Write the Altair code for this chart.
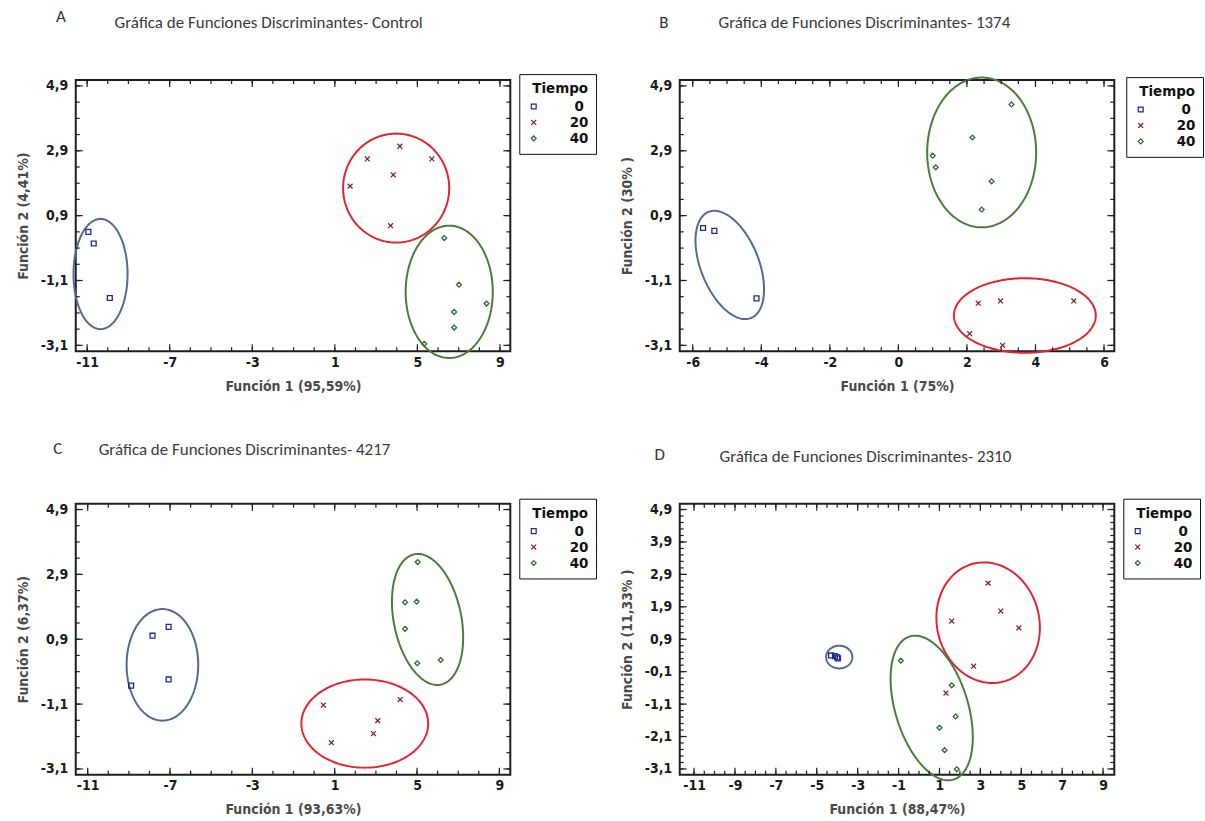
import numpy as np
import pandas as pd
import altair as alt

NARROW = "Liberation Sans Narrow, Arial Narrow, DejaVu Sans Condensed, sans-serif"
TITLE_FONT = "Carlito, Calibri, Lato, sans-serif"
FRAME = "#1e1e1e"

W, H = 436, 272
Y_DOMAIN = [-3.28, 5.08]

tiempos = ["0", "20", "40"]
point_colors = ["#1f2a8a", "#7d2635", "#2f6a36"]
ring_colors = ["#56698f", "#e3262e", "#4f7a3e"]
x_mark = "M-1,-1L1,1M-1,1L1,-1"
point_shapes = ["square", x_mark, "diamond"]

# ---- A: Control ----
a_x = {"0": [-10.94, -10.68, -9.90],
       "20": [1.74, 2.57, 4.15, 5.70, 3.83, 3.70],
       "40": [6.30, 7.01, 8.35, 6.78, 6.78, 5.33]}
a_y = {"0": [0.40, 0.04, -1.64],
       "20": [1.81, 2.65, 3.04, 2.65, 2.16, 0.59],
       "40": [0.21, -1.23, -1.81, -2.07, -2.55, -3.05]}
# ring: centre x, centre y, half width, half height, y-offset of the rightmost point
a_rings = {"0": [-10.35, -0.90, 1.31, 1.70, 0.0],
           "20": [3.97, 1.75, 2.57, 1.68, 0.0],
           "40": [6.54, -1.45, 2.11, 2.04, 0.0]}

# ---- B: 1374 ----
b_x = {"0": [-5.70, -5.37, -4.14],
       "20": [2.33, 2.98, 5.12, 2.08, 3.04],
       "40": [3.30, 2.16, 1.00, 1.09, 2.72, 2.43]}
b_y = {"0": [0.52, 0.43, -1.65],
       "20": [-1.80, -1.73, -1.73, -2.74, -3.10],
       "40": [4.33, 3.31, 2.75, 2.39, 1.96, 1.09]}
b_rings = {"0": [-4.92, -0.62, 1.00, 1.67, -0.75],
           "20": [3.69, -2.18, 2.07, 1.15, 0.0],
           "40": [2.43, 2.85, 1.59, 2.31, 0.0]}

# ---- C: 4217 ----
c_x = {"0": [-7.07, -7.85, -7.07, -8.89],
       "20": [0.45, 4.18, 3.09, 2.88, 0.84],
       "40": [5.03, 4.42, 4.98, 4.42, 5.01, 6.15]}
c_y = {"0": [1.28, 1.01, -0.34, -0.53],
       "20": [-1.13, -0.96, -1.61, -2.01, -2.29],
       "40": [3.28, 2.04, 2.06, 1.22, 0.16, 0.26]}
c_rings = {"0": [-7.37, 0.11, 1.74, 1.72, 0.0],
           "20": [2.46, -1.70, 3.08, 1.36, 0.0],
           "40": [5.51, 1.51, 1.73, 2.02, -0.55]}

# ---- D: 2310 ----
d_x = {"0": [-4.30, -4.11, -4.00, -3.96],
       "20": [3.38, 4.00, 1.60, 4.88, 2.67, 1.32],
       "40": [-0.89, 1.60, 1.79, 1.00, 1.25, 1.85]}
d_y = {"0": [0.40, 0.38, 0.34, 0.31],
       "20": [2.63, 1.77, 1.46, 1.25, 0.07, -0.76],
       "40": [0.24, -0.52, -1.48, -1.83, -2.52, -3.11]}
d_rings = {"0": [-3.90, 0.35, 0.64, 0.35, 0.0],
           "20": [3.38, 1.41, 2.53, 1.86, -0.15],
           "40": [0.62, -1.22, 2.01, 2.23, -0.90]}

# tick labels
x_major_wide = [-11, -7, -3, 1, 5, 9]
x_major_b = [-6, -4, -2, 0, 2, 4, 6]
x_major_d = [-11, -9, -7, -5, -3, -1, 1, 3, 5, 7, 9]
y_major = [-3.1, -1.1, 0.9, 2.9, 4.9]
y_major_d = [-3.1, -2.1, -1.1, -0.1, 0.9, 1.9, 2.9, 3.9, 4.9]


def ring_frame(rings):
    rows = []
    t = np.linspace(0, 2 * np.pi, 181)
    for i, key in enumerate(tiempos):
        cx, cy, a, h, k = rings[key]
        b = np.sqrt(h * h - k * k)
        for j, tt in enumerate(t):
            rows.append({"x": cx + a * np.cos(tt),
                         "y": cy + k * np.cos(tt) + b * np.sin(tt),
                         "g": key, "o": j, "c": ring_colors[i]})
    return pd.DataFrame(rows)


def point_frame(xs, ys):
    rows = []
    for key in tiempos:
        for x, y in zip(xs[key], ys[key]):
            rows.append({"x": x, "y": y, "Tiempo": key})
    return pd.DataFrame(rows)


def minor(lo, hi, step):
    n = int(round((hi - lo) / step))
    return [round(lo + i * step, 3) for i in range(n + 1)]


def panel(letter, title, x_title, y_title, x_dom, xs_pts, ys_pts, rings,
          x_major, x_step, y_major_vals, y_step, lay):
    xs = alt.Scale(domain=x_dom, nice=False, zero=False)
    ys = alt.Scale(domain=Y_DOMAIN, nice=False, zero=False)
    x_axis = alt.Axis(values=x_major, title=x_title, labelExpr="'' + datum.value",
                      ticks=False, domain=False, grid=False, labelPadding=4, titlePadding=10)
    y_axis = alt.Axis(values=y_major_vals, title=y_title,
                      labelExpr="replace('' + datum.value, '.', ',')",
                      ticks=False, domain=False, grid=False, labelPadding=8, titlePadding=10)

    def X(f):
        return alt.X(f, scale=xs, axis=x_axis)

    def Y(f):
        return alt.Y(f, scale=ys, axis=y_axis)

    legend = alt.Legend(
        title="Tiempo", orient="none", legendX=W + lay["lx"], legendY=lay["ly"],
        titleFont=NARROW, titleFontSize=15, titleFontWeight="bold", titleColor="#111",
        titleAnchor="end", titlePadding=3,
        labelFont=NARROW, labelFontSize=15, labelFontWeight="bold", labelColor="#111",
        labelAlign="center", labelOffset=38,
        symbolSize=24, symbolStrokeWidth=1.2, symbolFillColor="white",
        rowPadding=0, padding=7, strokeColor="#111", fillColor="white",
    )

    rings_layer = alt.Chart(ring_frame(rings)).mark_line(strokeWidth=2).encode(
        x=X("x:Q"), y=Y("y:Q"),
        detail="g:N", order="o:Q",
        color=alt.Color("c:N", scale=None),
    )

    pts_layer = alt.Chart(point_frame(xs_pts, ys_pts)).mark_point(
        filled=False, size=24, strokeWidth=1.3, opacity=1
    ).encode(
        x=X("x:Q"), y=Y("y:Q"),
        color=alt.Color("Tiempo:N", scale=alt.Scale(domain=tiempos, range=point_colors),
                        legend=legend),
        shape=alt.Shape("Tiempo:N", scale=alt.Scale(domain=tiempos, range=point_shapes),
                        legend=legend),
    )

    def edge_ticks(vals, axis, length):
        base = alt.Chart(pd.DataFrame({"x": vals, "y": vals})).mark_rule(
            color=FRAME, strokeWidth=1.2)
        if axis == "x":
            return [base.encode(x=X("x:Q"), y=alt.value(H), y2=alt.value(H - length)),
                    base.encode(x=X("x:Q"), y=alt.value(0), y2=alt.value(length))]
        return [base.encode(y=Y("y:Q"), x=alt.value(0), x2=alt.value(length)),
                base.encode(y=Y("y:Q"), x=alt.value(W), x2=alt.value(W - length))]

    ticks = []
    ticks += edge_ticks(x_major, "x", 7)
    ticks += edge_ticks(minor(x_major[0], x_major[-1], x_step), "x", 4)
    ticks += edge_ticks(y_major_vals, "y", 7)
    ticks += edge_ticks(minor(y_major_vals[0], y_major_vals[-1], y_step), "y", 4)

    letter_layer = alt.Chart(pd.DataFrame({"l": [letter]})).mark_text(
        font=TITLE_FONT, fontSize=17, color="#333", align="center", baseline="middle"
    ).encode(x=alt.value(lay["kx"]), y=alt.value(lay["ky"]), text="l:N")

    title_layer = alt.Chart(pd.DataFrame({"t": [title]})).mark_text(
        font=TITLE_FONT, fontSize=17, color="#3a3a3a", align="left", baseline="middle"
    ).encode(x=alt.value(lay["tx"]), y=alt.value(lay["ty"]), text="t:N")

    return alt.layer(rings_layer, *ticks, pts_layer, letter_layer, title_layer).properties(
        width=W, height=H)


A = panel("A", "Gráfica de Funciones Discriminantes- Control",
          "Función 1 (95,59%)", "Función 2 (4,41%)", [-11.55, 9.5],
          a_x, a_y, a_rings, x_major_wide, 1, y_major, 0.5,
          {"lx": 9, "ly": -6, "kx": -15, "ky": -63, "tx": 39, "ty": -57})
B = panel("B", "Gráfica de Funciones Discriminantes- 1374",
          "Función 1 (75%)", "Función 2 (30% )", [-6.38, 6.3],
          b_x, b_y, b_rings, x_major_b, 0.5, y_major, 0.5,
          {"lx": 12, "ly": -3, "kx": -16, "ky": -57, "tx": 39, "ty": -57})
C = panel("C", "Gráfica de Funciones Discriminantes- 4217",
          "Función 1 (93,63%)", "Función 2 (6,37%)", [-11.58, 9.53],
          c_x, c_y, c_rings, x_major_wide, 1, y_major, 0.5,
          {"lx": 9, "ly": -5, "kx": -18, "ky": -55, "tx": 23, "ty": -54})
D = panel("D", "Gráfica de Funciones Discriminantes- 2310",
          "Función 1 (88,47%)", "Función 2 (11,33% )", [-11.7, 9.55],
          d_x, d_y, d_rings, x_major_d, 0.5, y_major_d, 0.2,
          {"lx": 9, "ly": -5, "kx": -20, "ky": -49, "tx": 40, "ty": -47})

indep = dict(x="independent", y="independent", color="independent", shape="independent")

chart = (
    alt.concat(A, B, C, D, columns=2, spacing={"column": 21, "row": 45})
    .resolve_scale(**indep)
    .properties(padding={"left": 15, "top": 6, "right": 0, "bottom": 0}, background="white")
    .configure_view(stroke=FRAME, strokeWidth=2)
    .configure_axis(
        labelFont=NARROW, labelFontSize=14, labelFontWeight="bold", labelColor="#1a1a1a",
        titleFont=NARROW, titleFontSize=14, titleFontWeight="bold", titleColor="#4a4a4a",
    )
)

chart.save("out.html", embed_options={"renderer": "svg", "actions": False})
